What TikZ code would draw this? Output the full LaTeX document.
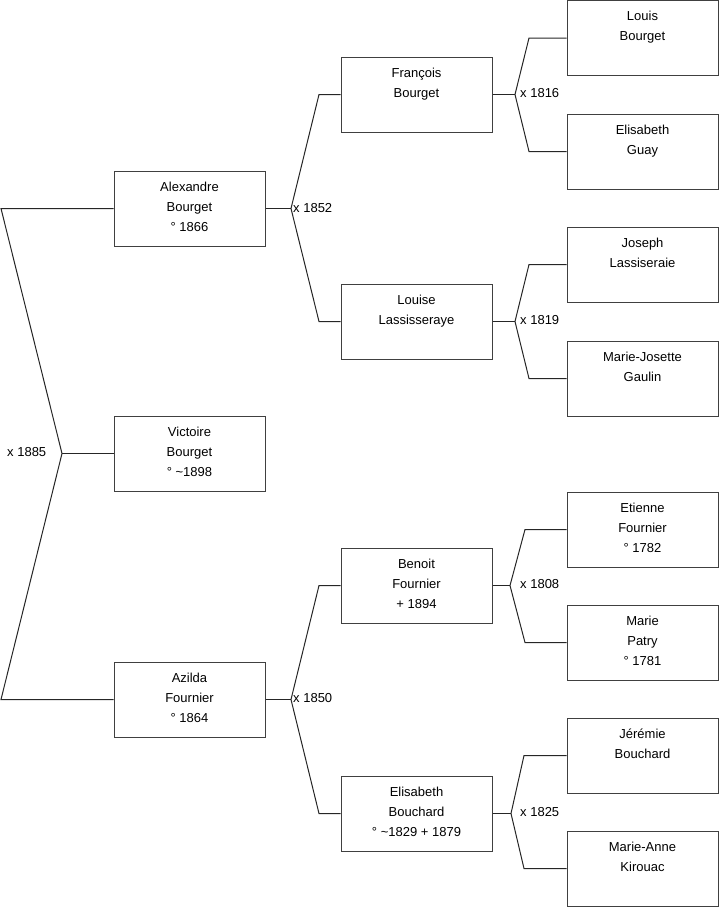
\documentclass[tikz,border=0pt]{standalone}
\usepackage{fontspec}
\setmainfont{Liberation Sans}
\begin{document}
\begin{tikzpicture}[x=1pt,y=-1pt,
  person/.style={draw=black!75, line width=1pt, minimum width=151pt, minimum height=75pt, inner sep=0pt},
  ptext/.style={anchor=north, align=center, inner sep=0pt, font=\fontsize{13}{20}\selectfont},
  marr/.style={anchor=west, inner sep=0pt, font=\fontsize{13}{20}\selectfont},
  conn/.style={draw=black!85, line width=1pt}]
\useasboundingbox (0,0) rectangle (719,908);
% column 1
\node[person] (alex) at (189.5,208.5) {};
\node[person] (vict) at (189.5,453.5) {};
\node[person] (azil) at (189.5,699.5) {};
% column 2
\node[person] (fran) at (416.5,94.5) {};
\node[person] (loui) at (416.5,321.5) {};
\node[person] (beno) at (416.5,585.5) {};
\node[person] (elib) at (416.5,813.5) {};
% column 3
\node[person] (lobo) at (642.5,38) {};
\node[person] (elgu) at (642.5,151.5) {};
\node[person] (jola) at (642.5,264.5) {};
\node[person] (mjga) at (642.5,378.5) {};
\node[person] (etfo) at (642.5,529.5) {};
\node[person] (mapa) at (642.5,642.5) {};
\node[person] (jebo) at (642.5,755.5) {};
\node[person] (maki) at (642.5,868.5) {};
% texts
\node[ptext] at ([yshift=-11.5pt]alex.north) {Alexandre\\Bourget\\° 1866};
\node[ptext] at ([yshift=-11.5pt]vict.north) {Victoire\\Bourget\\° \textasciitilde1898};
\node[ptext] at ([yshift=-11.5pt]azil.north) {Azilda\\Fournier\\° 1864};
\node[ptext] at ([yshift=-11.5pt]fran.north) {François\\Bourget};
\node[ptext] at ([yshift=-11.5pt]loui.north) {Louise\\Lassisseraye};
\node[ptext] at ([yshift=-11.5pt]beno.north) {Benoit\\Fournier\\+ 1894};
\node[ptext] at ([yshift=-11.5pt]elib.north) {Elisabeth\\Bouchard\\° \textasciitilde1829 + 1879};
\node[ptext] at ([yshift=-11pt]lobo.north) {Louis\\Bourget};
\node[ptext] at ([yshift=-11.5pt]elgu.north) {Elisabeth\\Guay};
\node[ptext] at ([yshift=-11.5pt]jola.north) {Joseph\\Lassiseraie};
\node[ptext] at ([yshift=-11.5pt]mjga.north) {Marie-Josette\\Gaulin};
\node[ptext] at ([yshift=-11.5pt]etfo.north) {Etienne\\Fournier\\° 1782};
\node[ptext] at ([yshift=-11.5pt]mapa.north) {Marie\\Patry\\° 1781};
\node[ptext] at ([yshift=-11.5pt]jebo.north) {Jérémie\\Bouchard};
\node[ptext] at ([yshift=-11.5pt]maki.north) {Marie-Anne\\Kirouac};
% root fork
\coordinate (r1) at (1,208.5);
\coordinate (r2) at (62,453.5);
\coordinate (r3) at (1,699.5);
\draw[conn] (alex.west) -- (r1) -- (r2) -- (r3) -- (azil.west);
\draw[conn] (r2) -- (vict.west);
\node[marr] at (7,452) {x 1885};
% Alexandre fork
\coordinate (a0) at (291,208.5);
\coordinate (a1) at (319,94.5);
\coordinate (a2) at (319,321.5);
\draw[conn] (alex.east) -- (a0);
\draw[conn] (fran.west) -- (a1) -- (a0) -- (a2) -- (loui.west);
\node[marr] at (293,208) {x 1852};
% Azilda fork
\coordinate (z0) at (291,699.5);
\coordinate (z1) at (319,585.5);
\coordinate (z2) at (319,813.5);
\draw[conn] (azil.east) -- (z0);
\draw[conn] (beno.west) -- (z1) -- (z0) -- (z2) -- (elib.west);
\node[marr] at (293,698) {x 1850};
% Francois fork
\coordinate (f0) at (515,94.5);
\coordinate (f1) at (529,38);
\coordinate (f2) at (529,151.5);
\draw[conn] (fran.east) -- (f0);
\draw[conn] (lobo.west) -- (f1) -- (f0) -- (f2) -- (elgu.west);
\node[marr] at (520,93) {x 1816};
% Louise fork
\coordinate (l0) at (515,321.5);
\coordinate (l1) at (529,264.5);
\coordinate (l2) at (529,378.5);
\draw[conn] (loui.east) -- (l0);
\draw[conn] (jola.west) -- (l1) -- (l0) -- (l2) -- (mjga.west);
\node[marr] at (520,320) {x 1819};
% Benoit fork
\coordinate (b0) at (510,585.5);
\coordinate (b1) at (525,529.5);
\coordinate (b2) at (525,642.5);
\draw[conn] (beno.east) -- (b0);
\draw[conn] (etfo.west) -- (b1) -- (b0) -- (b2) -- (mapa.west);
\node[marr] at (520,584) {x 1808};
% Elisabeth fork
\coordinate (e0) at (511,813.5);
\coordinate (e1) at (524,755.5);
\coordinate (e2) at (524,868.5);
\draw[conn] (elib.east) -- (e0);
\draw[conn] (jebo.west) -- (e1) -- (e0) -- (e2) -- (maki.west);
\node[marr] at (520,812) {x 1825};
\end{tikzpicture}
\end{document}
